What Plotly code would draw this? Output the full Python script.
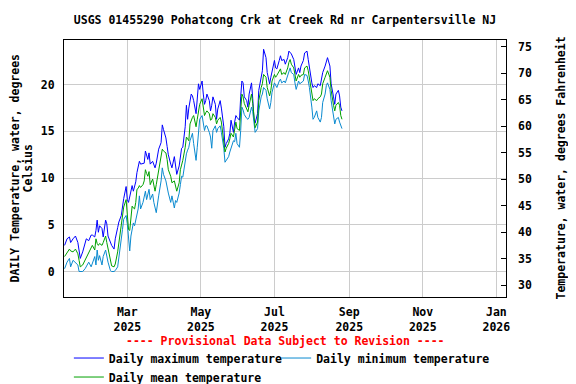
import pandas as pd
from plotly import graph_objs as go

# days after 2025-01-08
day_offset = [0, 1, 2, 4, 5, 7, 9, 11, 12, 13, 15, 17, 18, 20, 22, 23, 25, 26, 27, 28, 29, 31, 32, 34, 35, 36, 38, 39, 41, 42, 44, 45, 47, 48, 49,
              51, 52, 53, 54, 55, 56, 57, 58, 59, 60, 61, 62, 63, 65, 66, 67, 68, 69, 70, 71, 73, 74, 75, 76, 78, 80, 81, 82, 84, 85, 86, 88, 89, 91, 92, 93, 95, 96, 97,
              98, 100, 101, 102, 103, 104, 105, 106, 107, 109, 110, 111, 112, 114, 115, 116, 117, 118, 120, 121, 122, 123, 125, 126, 127, 129, 130, 132, 133, 134, 136, 137, 138, 140, 141, 142,
              143, 145, 146, 147, 148, 149, 151, 152, 153, 155, 156, 157, 158, 160, 161, 163, 164, 165, 167, 168, 170, 171, 172, 174, 175, 176, 178, 179, 180, 182, 183, 185, 186,
              187, 188, 190, 191, 192, 194, 195, 196, 198, 199, 201, 202, 203, 205, 206, 207, 209, 210, 212, 213, 214, 216, 217, 218, 220, 221, 223, 224, 225, 227, 228, 229, 230]

temp_max = [2.8, 3.2, 3.5, 3.7, 3.1, 3.5, 3.8, 3.1, 1.9, 1.4, 2.1, 3.0, 3.5, 3.3, 3.9, 3.9, 3.7, 4.4, 5.5, 4.2, 4.9, 4.6, 3.7, 5.5, 5.1, 3.8, 3.1, 2.8, 2.4, 3.5, 4.7, 5.3, 6.0, 7.0, 7.8,
            9.1, 7.7, 7.4, 8.0, 8.8, 9.2, 8.6, 9.0, 9.6, 10.6, 11.2, 11.8, 11.5, 11.6, 11.6, 12.9, 12.3, 12.0, 12.7, 11.5, 11.8, 11.5, 11.1, 11.6, 13.1, 13.8, 15.7, 15.2, 14.3, 13.4, 12.5, 11.5, 11.1, 12.3, 11.1, 10.4, 11.3, 12.1, 13.2,
            13.3, 15.5, 17.8, 16.3, 17.5, 18.2, 19.0, 18.8, 18.3, 16.9, 18.7, 20.1, 19.5, 20.4, 19.0, 17.9, 18.3, 19.0, 18.3, 17.2, 17.8, 18.7, 17.9, 16.3, 17.4, 18.3, 17.5, 15.5, 13.3, 13.7, 14.2, 14.8, 16.2, 14.9, 16.0, 16.7,
            16.5, 16.2, 18.7, 20.4, 20.2, 18.7, 18.3, 17.6, 19.0, 20.2, 18.5, 16.3, 15.9, 16.9, 19.4, 21.1, 21.5, 23.8, 22.9, 21.3, 20.1, 20.8, 21.5, 22.6, 21.8, 21.7, 22.6, 23.1, 22.6, 22.7, 22.2, 22.9, 23.6,
            23.4, 23.3, 22.7, 21.8, 21.1, 21.8, 21.3, 22.0, 22.6, 23.4, 23.6, 22.7, 21.8, 20.2, 19.7, 19.9, 19.7, 20.1, 19.9, 20.6, 21.3, 22.0, 22.6, 22.9, 22.0, 20.1, 18.7, 17.9, 19.0, 19.4, 18.8, 17.6, 17.2]

temp_mean = [1.6, 1.8, 1.9, 2.4, 2.2, 2.1, 2.4, 1.9, 1.2, 0.5, 0.7, 1.2, 1.4, 1.9, 2.4, 2.8, 2.3, 3.5, 3.0, 2.8, 3.0, 2.8, 3.1, 3.8, 3.1, 2.4, 1.0, 0.6, 0.5, 0.8, 2.1, 3.1, 4.9, 6.0, 6.9,
             7.7, 6.3, 4.5, 4.4, 6.0, 7.0, 6.8, 6.7, 7.4, 8.8, 8.9, 9.2, 9.0, 9.3, 9.7, 10.9, 10.5, 10.2, 10.7, 9.3, 9.9, 9.0, 8.6, 9.3, 10.7, 12.0, 13.1, 12.9, 12.7, 12.0, 10.9, 10.2, 9.5, 9.7, 9.2, 8.6, 9.5, 10.9, 11.4,
             11.9, 13.3, 14.4, 14.2, 14.0, 15.8, 16.2, 16.5, 16.7, 15.5, 16.3, 17.2, 17.9, 18.5, 17.6, 16.7, 17.0, 17.2, 16.9, 16.2, 16.3, 16.9, 16.5, 15.8, 16.2, 16.5, 16.0, 14.0, 12.8, 13.2, 13.7, 14.2, 14.8, 14.4, 15.1, 16.0,
             15.3, 15.1, 17.2, 19.0, 18.7, 18.0, 17.4, 17.1, 17.8, 19.0, 18.0, 16.2, 15.4, 16.0, 18.3, 19.7, 20.1, 21.1, 20.8, 19.7, 18.8, 19.4, 20.4, 21.1, 20.8, 21.0, 21.5, 21.7, 21.1, 21.3, 21.1, 21.8, 22.4,
             22.7, 22.2, 21.8, 21.1, 20.4, 21.1, 20.8, 21.0, 21.1, 21.8, 22.0, 21.5, 20.6, 18.7, 18.3, 18.5, 18.3, 18.5, 18.7, 19.0, 20.1, 20.8, 21.3, 21.5, 20.8, 19.4, 17.8, 17.2, 17.8, 18.1, 17.8, 16.7, 16.3]

temp_min = [0.3, 0.8, 1.0, 1.4, 0.5, 1.2, 1.0, 0.7, 0.0, 0.0, 0.0, 0.3, 0.5, 1.0, 0.5, 0.8, 1.6, 0.7, 2.3, 1.2, 1.7, 0.7, 1.6, 2.3, 1.4, 1.0, 0.1, 0.0, 0.0, 0.1, 0.5, 1.4, 3.5, 4.5, 5.6,
            6.0, 5.1, 3.1, 2.2, 3.8, 4.6, 5.2, 4.9, 5.6, 6.2, 6.7, 8.1, 6.7, 7.4, 7.9, 8.6, 7.7, 8.2, 8.8, 7.7, 8.3, 7.4, 6.7, 6.3, 8.1, 9.7, 11.1, 10.4, 9.7, 9.0, 8.4, 7.4, 8.1, 6.8, 7.6, 7.4, 8.4, 9.3, 10.2,
            10.1, 11.9, 12.6, 13.0, 13.3, 14.0, 14.4, 14.8, 13.7, 11.9, 13.3, 15.1, 16.3, 16.7, 15.8, 15.1, 15.6, 15.6, 14.9, 14.4, 13.2, 15.1, 15.6, 14.9, 15.3, 15.6, 14.9, 13.2, 11.7, 11.9, 12.3, 12.8, 13.3, 14.0, 13.9, 14.8,
            13.7, 13.3, 15.1, 17.6, 17.3, 16.8, 16.4, 16.3, 16.5, 17.6, 17.1, 15.6, 14.9, 15.3, 17.2, 18.7, 19.0, 19.7, 19.4, 18.5, 17.4, 18.1, 19.2, 20.2, 19.9, 19.7, 20.4, 20.6, 20.2, 20.4, 20.2, 21.0, 21.5,
            21.8, 21.3, 21.1, 20.2, 19.5, 20.4, 20.1, 20.2, 20.4, 21.1, 21.0, 20.4, 19.7, 17.6, 16.3, 16.5, 17.2, 16.5, 16.0, 16.5, 18.1, 19.0, 19.9, 20.2, 19.5, 18.3, 16.7, 15.8, 16.3, 16.5, 16.0, 15.5, 15.3]

fahrenheit_ticks = [30, 35, 40, 45, 50, 55, 60, 65, 70, 75]

dates = pd.Timestamp('2025-01-08') + pd.to_timedelta(day_offset, unit='D')

FONT = 'DejaVu Sans Mono'
FSIZE = 11.5

fig = go.Figure()
fig.add_trace(go.Scatter(x=dates, y=temp_max, mode='lines', name='Daily maximum temperature',
                         line=dict(color='#0000ff', width=1), legend='legend'))
fig.add_trace(go.Scatter(x=dates, y=temp_min, mode='lines', name='Daily minimum temperature',
                         line=dict(color='#0a8ad0', width=1), legend='legend2'))
fig.add_trace(go.Scatter(x=dates, y=temp_mean, mode='lines', name='Daily mean temperature',
                         line=dict(color='#00a000', width=1), legend='legend'))
# invisible trace to carry the Fahrenheit axis
fig.add_trace(go.Scatter(x=[dates[0]], y=[fahrenheit_ticks[0]], yaxis='y2', mode='markers',
                         marker=dict(opacity=0), showlegend=False, hoverinfo='skip'))

legend_style = dict(orientation='v', yanchor='top', y=-0.181, xanchor='left',
                    font=dict(size=FSIZE), itemwidth=30, tracegroupgap=0,
                    bgcolor='rgba(0,0,0,0)')

# page body adds an 8px margin, so the figure is 8px smaller than the window
fig.update_layout(
    width=568, height=376,
    margin=dict(l=56, r=70, t=32, b=87, autoexpand=False),
    plot_bgcolor='white', paper_bgcolor='white',
    font=dict(family=FONT, size=FSIZE, color='black', weight='bold'),
    title=dict(text='USGS 01455290 Pohatcong Crk at Creek Rd nr Carpentersville NJ',
               x=0.4877, xanchor='center', y=0.968, yanchor='middle',
               font=dict(family=FONT, size=FSIZE, color='black', weight='bold')),
    xaxis=dict(range=['2025-01-07 12:00', '2026-01-09'], tick0='2025-03-01', dtick='M2',
               tickformat='%b<br>%Y', showgrid=True, gridcolor='#cccccc', gridwidth=1,
               showline=True, linecolor='black', linewidth=1, mirror=True, ticks='', zeroline=False,
               ticklabelstandoff=4, automargin=False),
    yaxis=dict(range=[-2.73, 24.79], tickvals=[0, 5, 10, 15, 20], showgrid=True, gridcolor='#cccccc',
               gridwidth=1, showline=True, linecolor='black', linewidth=1, mirror=True, ticks='',
               zeroline=False, ticklabelstandoff=6, automargin=False),
    yaxis2=dict(range=[27.74, 76.26], tickvals=fahrenheit_ticks, overlaying='y', side='right',
                showgrid=False, zeroline=False, ticks='inside', ticklen=5, tickcolor='black',
                ticklabelstandoff=11, automargin=False),
    showlegend=True,
    legend=dict(x=0.011, **legend_style),
    legend2=dict(x=0.48, **legend_style),
    annotations=[
        dict(text='---- Provisional Data Subject to Revision ----', xref='paper', yref='paper',
             x=0.5, y=-0.171, xanchor='center', yanchor='middle', showarrow=False,
             font=dict(color='red', size=FSIZE, family=FONT, weight='bold')),
        dict(text='DAILY Temperature, water, degrees', xref='paper', yref='paper', textangle=-90,
             x=-0.1109, y=0.5, xanchor='center', yanchor='middle', showarrow=False),
        dict(text='Celsius', xref='paper', yref='paper', textangle=-90,
             x=-0.0837, y=0.5, xanchor='center', yanchor='middle', showarrow=False),
        dict(text='Temperature, water, degrees Fahrenheit', xref='paper', yref='paper', textangle=-90,
             x=1.1222, y=0.5, xanchor='center', yanchor='middle', showarrow=False),
    ],
)

fig.write_html("out.html")
